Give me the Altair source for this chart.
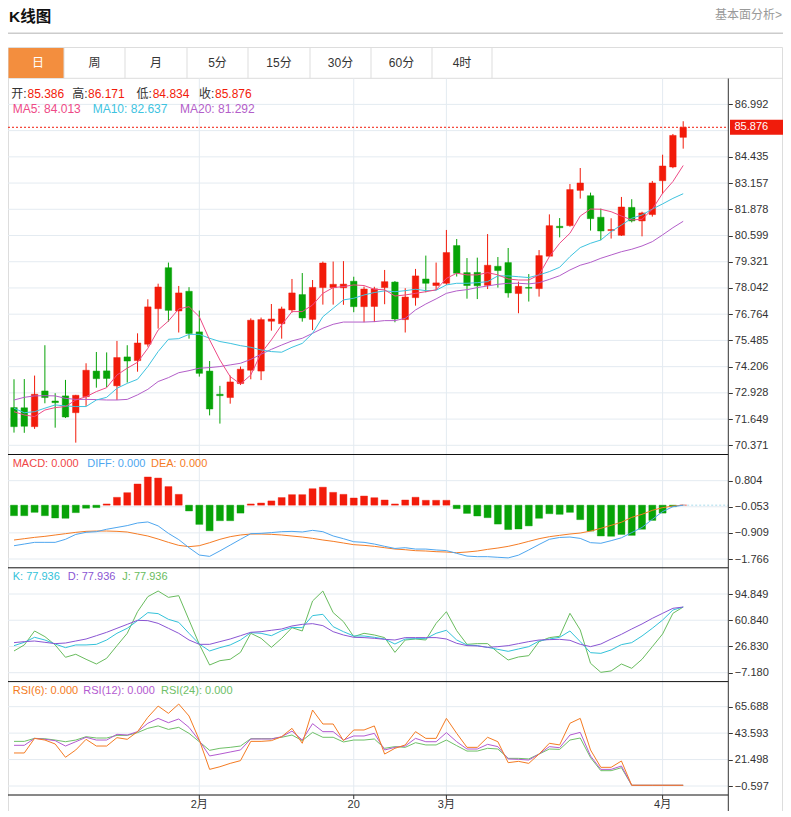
import altair as alt
import pandas as pd

# ---------------- data ----------------
opens = [72.21, 72.20, 71.28, 73.02, 72.53, 72.78, 71.96, 72.74, 73.99, 74.00,
         73.27, 74.68, 74.50, 75.30, 77.03, 79.03, 76.92, 77.88, 75.90, 73.99,
         72.86, 72.70, 73.38, 74.03, 73.99, 76.42, 76.30, 76.97, 77.72, 76.51,
         78.06, 78.06, 78.05, 78.37, 77.13, 77.14, 78.06, 78.33, 76.50, 77.57,
         78.48, 78.16, 78.27, 80.11, 78.79, 78.80, 78.17, 79.10, 79.28, 77.77,
         78.07, 78.01, 79.59, 81.05, 81.08, 82.80, 82.54, 81.49, 80.84, 80.61,
         81.97, 81.31, 81.62, 83.27, 83.94, 85.386]
highs = [73.59, 73.60, 73.77, 75.25, 72.91, 73.56, 72.83, 74.37, 74.92, 74.90,
         75.46, 75.25, 75.83, 77.49, 78.25, 79.28, 78.14, 78.08, 76.94, 74.48,
         73.27, 73.77, 74.21, 76.56, 76.60, 77.26, 77.13, 78.48, 78.77, 78.43,
         79.33, 79.33, 79.35, 78.59, 78.11, 78.10, 78.92, 78.38, 78.03, 78.97,
         79.62, 79.28, 80.87, 80.43, 79.50, 79.52, 80.67, 79.55, 79.99, 78.35,
         78.72, 79.89, 81.63, 81.45, 83.11, 83.89, 82.69, 81.91, 81.44, 82.48,
         82.37, 81.76, 83.26, 84.54, 85.55, 86.171]
lows = [70.99, 70.98, 71.17, 72.42, 71.23, 71.70, 70.50, 72.29, 73.18, 73.20,
        72.58, 73.43, 73.96, 75.18, 76.06, 76.40, 75.87, 75.57, 73.72, 71.83,
        71.43, 72.40, 73.31, 73.59, 73.55, 75.96, 75.57, 76.84, 76.40, 75.99,
        77.23, 77.23, 77.22, 76.86, 76.37, 76.38, 77.25, 76.37, 75.87, 77.18,
        77.83, 77.94, 78.19, 78.60, 77.52, 77.50, 77.99, 78.06, 77.57, 76.81,
        77.38, 77.62, 79.57, 80.51, 81.03, 82.40, 80.84, 80.37, 80.45, 80.58,
        81.24, 80.56, 81.52, 82.62, 83.88, 84.834]
closes = [71.28, 71.30, 72.86, 72.70, 72.45, 71.75, 72.81, 74.03, 73.62, 73.63,
          74.65, 74.48, 75.36, 77.12, 78.09, 76.95, 77.80, 75.82, 73.88, 72.14,
          72.79, 73.46, 74.08, 76.47, 76.50, 76.53, 77.02, 77.80, 76.58, 78.07,
          79.26, 78.22, 78.23, 77.13, 77.99, 78.00, 78.35, 76.53, 77.60, 78.63,
          78.27, 78.29, 79.77, 78.76, 78.16, 78.15, 79.15, 78.89, 77.80, 78.12,
          78.03, 79.62, 81.08, 80.98, 82.84, 83.16, 81.42, 80.82, 80.89, 81.99,
          81.31, 81.70, 83.16, 83.99, 85.48, 85.876]
ma5 = [72.01, 71.85, 71.77, 72.09, 72.21, 72.26, 72.58, 72.74, 72.99, 73.18,
       73.80, 74.13, 74.42, 75.10, 75.99, 76.43, 77.02, 77.13, 76.64, 75.51,
       74.53, 73.72, 73.36, 73.80, 74.86, 75.51, 76.24, 76.89, 76.89, 77.21,
       77.78, 78.06, 78.11, 78.19, 78.16, 77.98, 77.95, 77.65, 77.70, 77.78,
       77.86, 77.95, 78.51, 78.76, 78.68, 78.68, 78.79, 78.68, 78.48, 78.43,
       78.43, 78.68, 79.57, 80.22, 80.71, 81.55, 81.89, 81.88, 81.76, 81.55,
       81.36, 81.39, 81.88, 82.66, 83.23, 84.013]
ma10 = [72.18, 71.96, 72.01, 72.18, 72.34, 72.29, 72.26, 72.26, 72.58, 72.71,
        73.15, 73.39, 73.59, 74.21, 74.94, 75.54, 75.57, 75.78, 75.78, 75.59,
        75.43, 75.34, 75.23, 75.15, 75.02, 74.94, 74.91, 75.15, 75.34, 75.83,
        76.64, 77.05, 77.46, 77.54, 77.70, 77.82, 77.90, 77.86, 77.91, 77.98,
        77.91, 77.93, 78.19, 78.27, 78.27, 78.30, 78.35, 78.63, 78.63, 78.59,
        78.55, 78.68, 78.84, 79.05, 79.57, 80.01, 80.22, 80.38, 80.79, 81.11,
        81.44, 81.60, 81.89, 82.14, 82.41, 82.637]
ma20 = [72.58, 72.71, 72.78, 72.79, 72.78, 72.66, 72.61, 72.61, 72.60, 72.58,
        72.58, 72.61, 72.83, 73.10, 73.48, 73.67, 73.91, 74.01, 74.13, 74.16,
        74.21, 74.29, 74.37, 74.56, 74.81, 75.05, 75.26, 75.46, 75.59, 75.83,
        76.08, 76.27, 76.38, 76.38, 76.38, 76.40, 76.45, 76.45, 76.56, 76.97,
        77.26, 77.51, 77.78, 77.90, 77.96, 78.06, 78.14, 78.22, 78.27, 78.27,
        78.24, 78.30, 78.46, 78.64, 78.92, 79.15, 79.29, 79.49, 79.65, 79.81,
        79.93, 80.09, 80.30, 80.63, 80.98, 81.292]
macd_vals = [-0.345, -0.345, -0.235, -0.345, -0.42, -0.43, -0.245, -0.10, -0.08, 0.04,
             0.257, 0.41, 0.695, 0.925, 0.89, 0.61, 0.355, -0.19, -0.63, -0.84,
             -0.51, -0.51, -0.26, 0.04, 0.07, 0.14, 0.25, 0.345, 0.345, 0.54,
             0.59, 0.42, 0.355, 0.235, 0.30, 0.245, 0.17, 0.04, 0.17, 0.26,
             0.16, 0.16, 0.16, -0.115, -0.27, -0.355, -0.41, -0.62, -0.80, -0.78,
             -0.68, -0.43, -0.28, -0.30, -0.235, -0.475, -0.85, -1.01, -1.02, -0.96,
             -0.99, -0.79, -0.50, -0.26, -0.05, 0.0]
diff_vals = [-1.33, -1.275, -1.22, -1.22, -1.22, -1.12, -0.96, -0.89, -0.87, -0.79,
             -0.73, -0.67, -0.585, -0.55, -0.68, -0.925, -1.13, -1.395, -1.636, -1.68,
             -1.50, -1.31, -1.12, -0.935, -0.925, -0.90, -0.87, -0.86, -0.88, -0.826,
             -0.87, -1.01, -1.10, -1.20, -1.22, -1.275, -1.35, -1.42, -1.395, -1.44,
             -1.44, -1.47, -1.49, -1.58, -1.67, -1.69, -1.69, -1.71, -1.73, -1.64,
             -1.47, -1.29, -1.12, -1.06, -1.045, -1.09, -1.23, -1.25, -1.165, -1.07,
             -0.90, -0.73, -0.465, -0.21, -0.05, 0.0]
dea_vals = [-1.143, -1.10, -1.056, -1.023, -0.979, -0.935, -0.892, -0.859, -0.848, -0.848,
            -0.859, -0.881, -0.946, -1.012, -1.111, -1.22, -1.318, -1.362, -1.329, -1.231,
            -1.121, -1.034, -0.979, -0.946, -0.946, -0.957, -0.979, -1.012, -1.045, -1.089,
            -1.143, -1.187, -1.242, -1.296, -1.318, -1.351, -1.395, -1.439, -1.461, -1.493,
            -1.504, -1.526, -1.537, -1.559, -1.537, -1.504, -1.450, -1.406, -1.351, -1.275,
            -1.187, -1.100, -1.034, -0.990, -0.946, -0.914, -0.85, -0.760, -0.662, -0.56,
            -0.40, -0.30, -0.17, -0.08, -0.03, 0.0]
k_vals = [27.9, 32.2, 38.7, 35.2, 30.0, 25.3, 28.8, 28.8, 29.6, 35.2,
          43.9, 50.4, 60.3, 70.7, 69.4, 62.0, 58.1, 43.9, 30.0, 21.0,
          25.3, 28.8, 35.2, 44.7, 43.9, 40.8, 47.3, 51.6, 51.2, 66.8,
          68.5, 52.5, 46.0, 40.4, 40.4, 38.7, 36.5, 30.0, 36.5, 37.0,
          37.0, 43.9, 47.8, 35.2, 28.8, 27.9, 25.7, 23.1, 20.5, 23.6,
          26.6, 33.9, 36.5, 38.7, 46.9, 33.1, 18.8, 17.9, 22.3, 29.2,
          31.8, 40.4, 50.4, 61.1, 74.1, 77.936]
d_vals = [31.8, 33.1, 33.9, 32.2, 30.5, 31.3, 33.9, 36.5, 40.8, 45.2,
          50.4, 55.5, 60.7, 60.3, 56.8, 50.4, 43.9, 35.2, 29.6, 29.6,
          33.1, 36.5, 40.8, 45.2, 46.0, 47.8, 49.5, 53.4, 55.5, 56.4,
          53.8, 46.0, 41.7, 38.7, 38.3, 37.4, 36.1, 35.2, 38.3, 38.3,
          38.3, 38.3, 36.5, 30.9, 27.9, 27.5, 25.7, 26.6, 27.9, 30.5,
          33.1, 35.2, 35.7, 36.1, 34.8, 29.6, 26.6, 30.0, 36.5, 42.6,
          49.5, 56.0, 63.3, 69.8, 76.3, 77.936]
j_vals = [21.0, 28.8, 46.9, 39.6, 28.8, 12.8, 16.7, 10.2, 4.1, 11.5,
          27.9, 43.9, 71.9, 91.4, 98.7, 90.5, 92.7, 61.1, 29.6, 2.8,
          8.4, 10.2, 19.2, 43.9, 37.4, 25.7, 37.4, 51.2, 46.9, 85.8,
          98.7, 70.7, 59.0, 39.6, 43.9, 41.7, 38.3, 19.2, 35.2, 36.5,
          35.2, 56.8, 71.9, 47.3, 29.6, 30.5, 30.5, 19.2, 9.3, 13.2,
          14.9, 33.1, 38.3, 40.0, 69.8, 48.2, 5.0, -6.7, -4.9, 4.1,
          -1.5, 10.2, 26.6, 43.0, 69.8, 77.936]
rsi6 = [27.0, 27.0, 39.2, 37.8, 34.5, 23.4, 29.5, 38.4, 32.8, 32.8,
        39.8, 38.4, 44.8, 56.8, 66.2, 60.1, 67.9, 57.9, 37.8, 13.3,
        15.5, 18.3, 20.6, 36.7, 36.7, 37.3, 40.6, 47.6, 35.1, 62.9,
        51.2, 51.2, 37.3, 46.2, 46.2, 49.6, 26.1, 30.9, 33.7, 44.8,
        39.2, 39.2, 55.9, 43.4, 31.7, 31.7, 40.1, 36.4, 18.9, 20.0,
        18.3, 26.1, 35.1, 33.7, 51.8, 55.9, 29.5, 15.0, 15.0, 20.3,
        0.0, 0.0, 0.0, 0.0, 0.0, 0.0]
rsi12 = [33.4, 33.4, 39.2, 38.4, 37.3, 32.8, 36.4, 40.1, 37.8, 37.8,
         42.6, 42.0, 44.8, 51.8, 55.9, 52.3, 55.4, 48.4, 37.3, 24.5,
         26.1, 27.8, 29.5, 38.7, 38.7, 38.7, 40.6, 45.3, 37.8, 51.5,
         44.8, 44.8, 37.8, 41.2, 41.2, 43.4, 29.5, 31.7, 32.8, 39.2,
         36.4, 36.4, 44.0, 36.4, 30.3, 30.3, 34.2, 32.3, 22.0, 21.7,
         21.1, 26.1, 32.3, 31.4, 42.0, 44.2, 24.5, 13.3, 13.3, 16.1,
         0.0, 0.0, 0.0, 0.0, 0.0, 0.0]
rsi24 = [36.7, 36.7, 39.2, 38.9, 37.8, 36.4, 37.8, 40.6, 39.5, 39.5,
         41.7, 41.7, 44.0, 47.6, 49.6, 46.7, 48.4, 43.4, 36.4, 29.2,
         30.9, 31.7, 32.8, 38.9, 38.9, 38.9, 40.1, 42.0, 37.3, 44.2,
         40.1, 40.1, 36.2, 37.8, 37.8, 38.7, 30.9, 32.3, 31.7, 35.6,
         33.7, 33.7, 37.8, 33.1, 28.6, 28.6, 30.9, 30.3, 22.5, 22.5,
         22.0, 26.1, 30.3, 30.0, 37.8, 39.5, 23.1, 12.2, 12.2, 14.7,
         0.0, 0.0, 0.0, 0.0, 0.0, 0.0]

price_grid = [70.371, 71.649, 72.928, 74.206, 75.485, 76.764, 78.042,
              79.321, 80.599, 81.878, 83.157, 84.435, 85.714, 86.992]
price_labels = [70.371, 71.649, 72.928, 74.206, 75.485, 76.764, 78.042,
                79.321, 80.599, 81.878, 83.157, 84.435, 86.992]
macd_ticks = [-1.766, -0.909, -0.053, 0.804]
kdj_ticks = [-7.180, 26.830, 60.840, 94.849]
rsi_ticks = [-0.597, 21.498, 43.593, 65.688]
date_labels = ["2月", "20", "3月", "4月"]
date_index = [18, 33, 42, 63]
tab_labels = ["日", "周", "月", "5分", "15分", "30分", "60分", "4时"]

# ---------------- tables ----------------
n = len(closes)
df = pd.DataFrame({
    "i": list(range(n)), "open": opens, "high": highs, "low": lows, "close": closes,
    "ma5": ma5, "ma10": ma10, "ma20": ma20,
    "macd": macd_vals, "diff": diff_vals, "dea": dea_vals,
    "k": k_vals, "d": d_vals, "j": j_vals,
    "rsi6": rsi6, "rsi12": rsi12, "rsi24": rsi24,
})
last = df.tail(1)
dates = pd.DataFrame({"i": date_index, "label": date_labels})
one = pd.DataFrame({"o": [0]})

# ---------------- styles / layout ----------------
W, H = 775, 803
M = 8


def L(p):
    return p - M


AXIS_X = L(728.3)
RIGHT = W - 0.5
RED, GREEN = "#f21b0a", "#07a307"
GRID = "#e4ebf1"
TXT_FONT = "Liberation Sans, Noto Sans CJK SC, sans-serif"
AX_FONT = "Liberation Sans, Arial, sans-serif"
MA5C, MA10C, MA20C = "#ee4a86", "#3ec3df", "#b35ec9"
MACDC, DIFFC, DEAC = "#f04646", "#4ea6ef", "#f57c25"
KC, DC, JC = "#33c2d9", "#8a55d3", "#69bc5e"
R6C, R12C, R24C = "#f47b22", "#b35ad0", "#6ec067"

X_SCALE = alt.Scale(domain=[0, n - 1], range=[L(9), L(688.2)], nice=False, zero=False)
X = alt.X("i:Q", scale=X_SCALE, axis=None)


def pscale(domain, bottom_page, top_page):
    return alt.Scale(domain=domain, range=[L(bottom_page), L(top_page)], nice=False, zero=False)


main_sc = pscale([70.371, 86.992], 445.3, 104.4)
macd_sc = pscale([-1.766, 0.804], 559.0, 480.67)
kdj_sc = pscale([-7.18, 94.849], 672.7, 594.0)
rsi_sc = pscale([-0.597, 65.688], 786.0, 706.67)


def raxis(ticks):
    return alt.Axis(orient="right", offset=AXIS_X - W, values=ticks, format=".3f",
                    title=None, grid=False, domain=False, ticks=True, tickSize=4,
                    tickColor="#333", labelColor="#333", labelFont=AX_FONT,
                    labelFontSize=11, labelPadding=2, labelOverlap=False)


def Y(field, sc, ticks):
    return alt.Y(f"{field}:Q", scale=sc, axis=raxis(ticks))


def hgrid(grid_vals, sc, ticks):
    return alt.Chart(pd.DataFrame({"v": grid_vals})).mark_rule(color=GRID, strokeWidth=1).encode(
        y=Y("v", sc, ticks), x=alt.value(0), x2=alt.value(AXIS_X))


def text(t, xp, yp, color, size=12, weight="normal", align="left", font=TXT_FONT):
    return alt.Chart(one).mark_text(text=t, align=align, baseline="middle", fontSize=size,
                                    fontWeight=weight, font=font, color=color).encode(
        x=alt.value(L(xp)), y=alt.value(L(yp)))


def hline(yp, x0, x1, color, width=1):
    return alt.Chart(one).mark_rule(color=color, strokeWidth=width).encode(
        x=alt.value(x0), x2=alt.value(x1), y=alt.value(L(yp)))


def vline(xp, y0p, y1p, color, width=1):
    return alt.Chart(one).mark_rule(color=color, strokeWidth=width).encode(
        x=alt.value(L(xp)), y=alt.value(L(y0p)), y2=alt.value(L(y1p)))


up = "datum.close >= datum.open"
base = alt.Chart(df)

# ---------------- main (candles) ----------------
pt = price_labels
box_w = W - L(730)
main = alt.layer(
    hgrid(price_grid, main_sc, pt),
    base.mark_rule(strokeWidth=1).encode(
        x=X, y=Y("low", main_sc, pt), y2="high",
        color=alt.condition(up, alt.value(RED), alt.value(GREEN))),
    base.mark_bar(size=6.5, strokeWidth=1, strokeOpacity=0.45).encode(
        x=X, y=Y("open", main_sc, pt), y2="close",
        fill=alt.condition(up, alt.value(RED), alt.value(GREEN)),
        stroke=alt.condition(up, alt.value(RED), alt.value(GREEN))),
    base.mark_line(strokeWidth=1, color=MA20C).encode(x=X, y=Y("ma20", main_sc, pt)),
    base.mark_line(strokeWidth=1, color=MA10C).encode(x=X, y=Y("ma10", main_sc, pt)),
    base.mark_line(strokeWidth=1, color=MA5C).encode(x=X, y=Y("ma5", main_sc, pt)),
    alt.Chart(last).mark_rule(color=RED, strokeWidth=1, strokeDash=[2, 2]).encode(
        y=Y("close", main_sc, pt), x=alt.value(0), x2=alt.value(AXIS_X)),
    alt.Chart(last).mark_point(
        shape=f"M-1,-{15 / box_w:.4f}L1,-{15 / box_w:.4f}L1,{15 / box_w:.4f}L-1,{15 / box_w:.4f}Z",
        size=box_w * box_w, filled=True, color="#f01c0c", opacity=1, strokeWidth=0).encode(
        x=alt.value(L(730) + box_w / 2), y=Y("close", main_sc, pt)),
    alt.Chart(last).mark_text(color="white", align="left", baseline="middle", fontSize=11,
                              font=AX_FONT).encode(
        x=alt.value(L(734.5)), y=Y("close", main_sc, pt),
        text=alt.Text("close:Q", format=".3f")),
)

# ---------------- MACD ----------------
macd_panel = alt.layer(
    hgrid(macd_ticks, macd_sc, macd_ticks),
    base.mark_bar(size=7, strokeWidth=1, strokeOpacity=0.4).encode(
        x=X, y=Y("macd", macd_sc, macd_ticks), y2=alt.datum(0),
        fill=alt.condition("datum.macd >= 0", alt.value(RED), alt.value(GREEN)),
        stroke=alt.condition("datum.macd >= 0", alt.value(RED), alt.value(GREEN))),
    base.mark_line(strokeWidth=1, color=DEAC).encode(x=X, y=Y("dea", macd_sc, macd_ticks)),
    base.mark_line(strokeWidth=1, color=DIFFC).encode(x=X, y=Y("diff", macd_sc, macd_ticks)),
    alt.Chart(last).mark_rule(color="#a9dcec", strokeWidth=1, strokeDash=[2, 2]).encode(
        x=X, x2=alt.value(AXIS_X), y=Y("diff", macd_sc, macd_ticks)),
)

# ---------------- KDJ ----------------
kdj_panel = alt.layer(
    hgrid(kdj_ticks, kdj_sc, kdj_ticks),
    base.mark_line(strokeWidth=1, color=JC).encode(x=X, y=Y("j", kdj_sc, kdj_ticks)),
    base.mark_line(strokeWidth=1, color=KC).encode(x=X, y=Y("k", kdj_sc, kdj_ticks)),
    base.mark_line(strokeWidth=1, color=DC).encode(x=X, y=Y("d", kdj_sc, kdj_ticks)),
)

# ---------------- RSI ----------------
rsi_panel = alt.layer(
    hgrid(rsi_ticks, rsi_sc, rsi_ticks),
    base.mark_line(strokeWidth=1, color=R24C).encode(x=X, y=Y("rsi24", rsi_sc, rsi_ticks)),
    base.mark_line(strokeWidth=1, color=R12C).encode(x=X, y=Y("rsi12", rsi_sc, rsi_ticks)),
    base.mark_line(strokeWidth=1, color=R6C).encode(x=X, y=Y("rsi6", rsi_sc, rsi_ticks)),
)

# ---------------- frame, grid, x labels ----------------
vgrid = alt.Chart(dates).mark_rule(color=GRID, strokeWidth=1).encode(
    x=X, y=alt.value(L(78.5)), y2=alt.value(L(795)))
xticks = alt.Chart(dates).mark_rule(color="#333", strokeWidth=1).encode(
    x=X, y=alt.value(L(795)), y2=alt.value(L(799)))
xlabels = alt.Chart(dates).mark_text(fontSize=11, font=TXT_FONT, color="#333",
                                     baseline="middle", align="center").encode(
    x=X, y=alt.value(L(805)), text="label:N")

decor = [
    alt.Chart(one).mark_rect(fill="white", fillOpacity=0, stroke="#dddddd", strokeWidth=1).encode(
        x=alt.value(0.5), x2=alt.value(RIGHT), y=alt.value(L(47.5)), y2=alt.value(H + 10)),
    hline(33.3, 0, W, "#cccccc", 1.5),
    hline(78.3, 0, RIGHT, "#dddddd"),
    alt.Chart(one).mark_rect(fill="#f38e3e").encode(
        x=alt.value(0.5), x2=alt.value(L(64)), y=alt.value(L(48)), y2=alt.value(L(78))),
]
tab_edges = [8, 64, 125, 187, 248, 310, 371, 432, 492]
for t, (a, b) in enumerate(zip(tab_edges[:-1], tab_edges[1:])):
    decor.append(vline(b, 47.5, 78.3, "#dddddd"))
    decor.append(text(tab_labels[t], (a + b) / 2 + (2 if t == 0 else 0), 63,
                      "white" if t == 0 else "#333333", size=12, align="center"))

decor += [
    text("K线图", 9, 16.5, "#111111", size=15.5, weight="bold"),
    text("基本面分析>", W + M - 1, 15, "#999999", size=12, align="right"),
]

# info rows
o, h, lo, c = opens[-1], highs[-1], lows[-1], closes[-1]
info = [
    text("开:", 11.2, 93.5, "#333333"), text(f"{o:.3f}", 27.5, 93.5, RED),
    text("高:", 72.3, 93.5, "#333333"), text(f"{h:.3f}", 88, 93.5, RED),
    text("低:", 136.5, 93.5, "#333333"), text(f"{lo:.3f}", 152.7, 93.5, RED),
    text("收:", 199, 93.5, "#333333"), text(f"{c:.3f}", 215, 93.5, RED),
    text(f"MA5: {ma5[-1]:.3f}", 12.7, 108.5, MA5C),
    text(f"MA10: {ma10[-1]:.3f}", 92.7, 108.5, MA10C),
    text(f"MA20: {ma20[-1]:.3f}", 180, 108.5, MA20C),
    text(f"MACD: {macd_vals[-1]:.3f}", 12.7, 464, MACDC, size=11),
    text(f"DIFF: {diff_vals[-1]:.3f}", 87.3, 464, DIFFC, size=11),
    text(f"DEA: {dea_vals[-1]:.3f}", 151, 464, DEAC, size=11),
    text(f"K: {k_vals[-1]:.3f}", 12.7, 577.3, KC, size=11),
    text(f"D: {d_vals[-1]:.3f}", 67.7, 577.3, DC, size=11),
    text(f"J: {j_vals[-1]:.3f}", 122.3, 577.3, JC, size=11),
    text(f"RSI(6): {rsi6[-1]:.3f}", 12.7, 691, R6C, size=11),
    text(f"RSI(12): {rsi12[-1]:.3f}", 83.3, 691, R12C, size=11),
    text(f"RSI(24): {rsi24[-1]:.3f}", 161, 691, R24C, size=11),
]

separators = [hline(yp, 0, AXIS_X, "#111111") for yp in (454.5, 567.8, 681.6, 795)]
axis_line = vline(728.3, 78.5, 830, "#333333")

chart = alt.layer(
    *decor, vgrid, main, macd_panel, kdj_panel, rsi_panel,
    *separators, axis_line, xticks, xlabels, *info,
).resolve_scale(y="independent").properties(
    width=W, height=H, padding=0, autosize=alt.AutoSizeParams(type="none"),
    background="white",
).configure_view(stroke=None)

chart.save("out.html", embed_options={"renderer": "svg", "actions": False})
